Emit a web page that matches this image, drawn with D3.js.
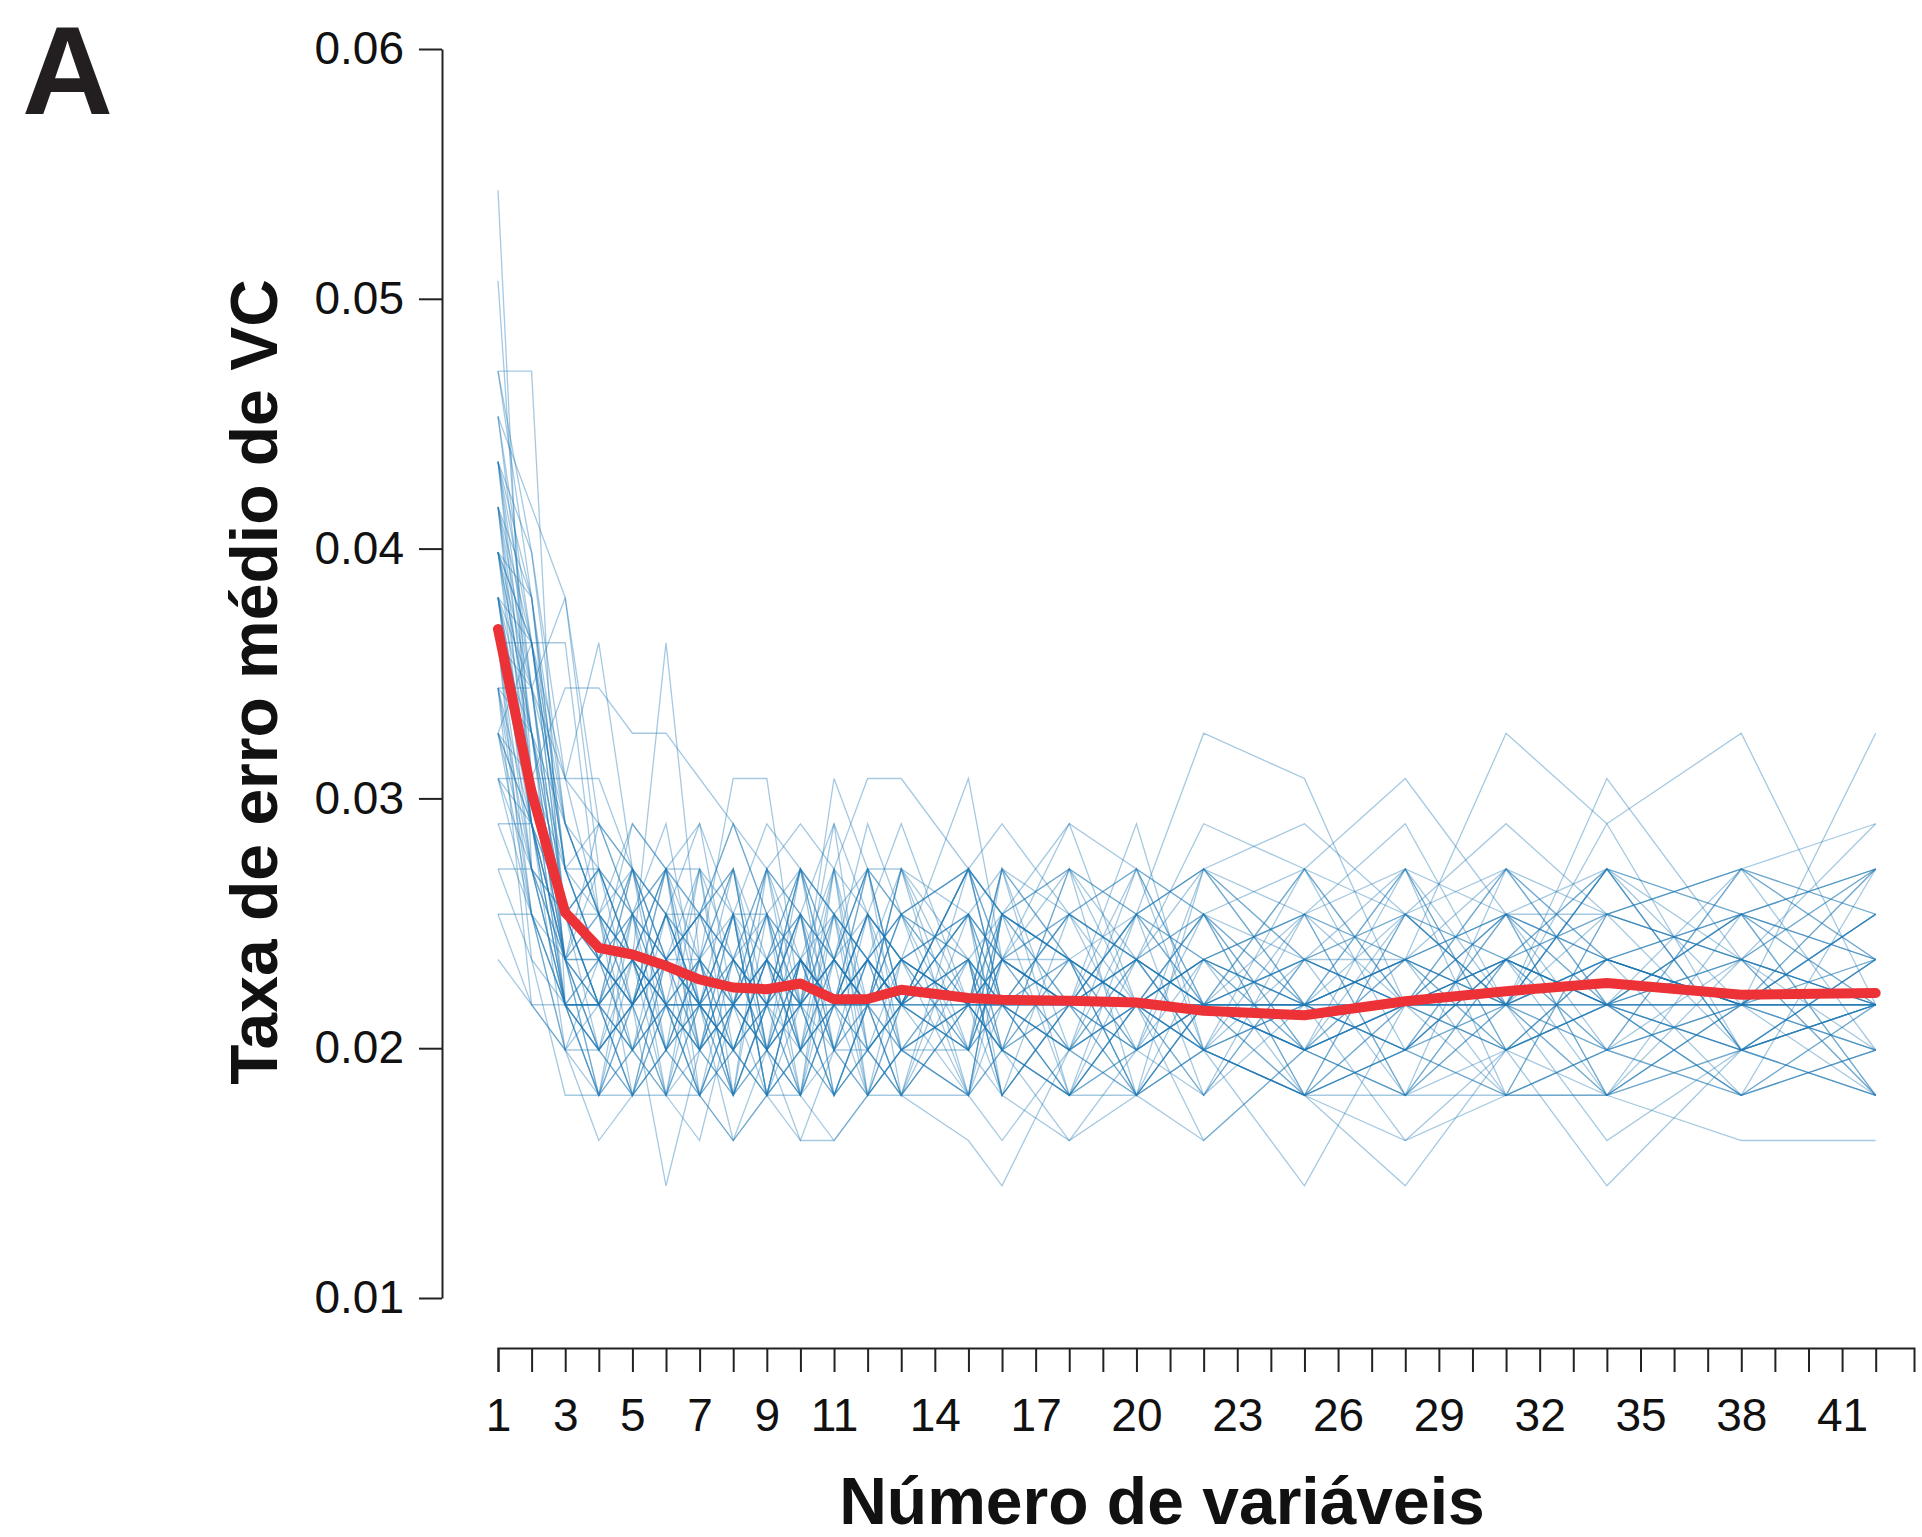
<!DOCTYPE html>
<html>
<head>
<meta charset="utf-8">
<script src="https://cdn.jsdelivr.net/npm/d3@7"></script>
<style>
  body { margin: 0; background: #fff; }
  svg text { font-family: "Liberation Sans", Arial, Helvetica, sans-serif; fill: #111; }
</style>
</head>
<body>
<svg id="chart" width="1922" height="1537"></svg>
<script>
// numbers of variables at which each run was evaluated
const nVars = [1, 2, 3, 4, 5, 6, 7, 8, 9, 10, 11, 12, 13, 15, 16, 18, 20, 22, 25, 28, 31, 34, 38, 42];

// misclassified samples per run (out of nAmostras), one row per CV run
const nAmostras = 552;
const execucoes = [
  [30,15,12, 13,11,12,10,12,14,11,12,14,12,13,11,13,10,12,13,12,14,12,11,12],
  [28,17,13, 11,12,14,12,11,13,12,10,12,13,11,14,12,12,13,11,10,12,13,12,14],
  [26,26,12, 12,10,13,12,15,11,13,15,11,12,12,13,11,12,14,12,11,13,12,10,12],
  [26,22,16, 14,13,11,13,10,12,12,14,13,11,12,15,13,11,12,12,14,12,11,13,12],
  [25,23,21, 15,13,12,11,13,12,10,12,13,12,11,13,12,14,12,11,12,13,15,12,11],
  [25,20,15, 13,14,16,12,12,10,13,11,12,10,12,13,11,12,11,12,13,11,12,11,13],
  [24,19,17, 20,15,13,14,13,12,14,12,11,12,15,12,11,13,12,10,11,13,12,14,12],
  [24,21,14, 13,12,12,13,11,12,15,13,12,13,12,11,10,12,13,11,12,12,14,13,12],
  [24,18,13, 10,11,12,12,9,10,11,12,13,12,11,12,12,13,11,12,9,11,12,12,13],
  [23,20,16, 14,12,13,11,12,14,12,13,12,14,12,13,12,11,10,12,13,14,11,12,10],
  [23,17,19, 19,18,18,17,16,14,13,12,13,12,12,14,13,12,11,10,12,13,12,13,11],
  [23,19,14, 12,11,10,12,12,11,13,11,10,11,12,12,11,12,12,13,12,14,13,12,12],
  [22,16,13, 12,13,11,12,14,11,12,10,12,12,13,10,12,12,11,8,12,12,10,12,15],
  [22,20,15, 13,15,12,12,11,13,12,11,13,12,14,12,12,14,12,12,11,12,13,12,12],
  [22,18,14, 15,14,13,12,10,12,11,12,12,13,12,11,12,13,12,13,13,12,16,11,12],
  [22,17,12, 11,13,12,13,12,12,12,10,11,12,11,12,10,11,12,11,12,13,12,12,13],
  [21,19,21, 16,14,13,13,12,12,13,12,12,15,12,12,12,12,13,12,12,11,12,13,12],
  [21,17,13, 13,12,15,11,12,12,13,12,14,13,12,12,11,12,12,12,13,12,12,10,11],
  [21,16,14, 12,12,13,12,12,11,12,13,12,12,15,13,13,12,12,12,12,11,13,12,12],
  [21,15,13, 12,13,12,12,11,12,12,12,13,12,12,13,12,10,12,11,12,12,12,12,12],
  [20,14,11, 10,10,11,10,9,10,11,10,11,10,10,11,10,12,11,10,11,10,10,11,10],
  [20,16,12, 11,10,10,10,11,10,9,11,11,10,9,8,11,10,11,10,10,11,8,11,10],
  [20,13,10, 10,12,8,11,10,11,10,11,10,10,12,11,10,10,9,11,10,10,11,10,11],
  [19,15,12, 12,11,10,11,10,11,9,9,10,11,10,11,9,10,11,10,11,10,10,11,12],
  [19,12,11, 11,10,12,10,11,10,10,12,10,11,11,10,9,11,12,10,8,11,10,9,9],
  [19,19,16, 15,14,15,16,14,13,15,14,13,14,15,14,16,15,14,15,17,14,15,14,15],
  [18,20,17, 14,16,15,14,13,15,14,16,14,13,14,15,14,13,15,14,13,14,14,15,16],
  [18,17,15, 16,15,14,14,15,13,14,13,15,14,13,14,15,14,13,14,15,14,13,14,13],
  [18,16,14, 13,14,15,15,14,14,13,14,15,15,14,13,14,15,14,13,14,15,14,15,14],
  [17,17,17, 17,15,14,13,14,16,15,14,13,14,15,14,13,14,15,16,14,13,15,14,15],
  [17,15,14, 12,13,11,12,13,12,14,13,12,13,12,14,15,14,18,17,12,11,13,12,12],
  [16,16,13, 13,12,14,12,11,13,12,12,13,12,13,12,12,13,12,12,13,18,16,18,12],
  [16,14,12, 12,11,13,12,12,11,13,12,12,13,12,11,12,13,12,11,12,12,11,12,18],
  [15,15,14, 14,13,15,14,16,15,16,15,17,17,15,14,13,12,13,14,12,13,14,13,12],
  [15,13,12, 12,13,12,11,13,12,13,12,14,13,17,13,12,11,12,13,12,12,17,13,12],
  [14,14,13, 14,13,20,13,12,11,12,13,12,11,13,12,14,12,13,12,11,12,13,12,14],
  [14,12,11, 13,12,14,13,17,17,12,17,15,14,13,12,14,13,12,11,12,13,12,11,12],
  [13,12,12, 11,12,13,14,12,13,11,12,13,12,14,13,12,13,14,12,13,12,12,14,13],
  [20,20,20, 14,12,13,11,12,13,12,12,11,12,13,12,13,12,11,12,13,12,13,12,14],
  [24,20,14, 12,14,13,12,11,12,14,13,12,11,12,12,13,12,12,12,11,13,12,12,12],
  [22,18,13, 14,10,12,15,11,13,10,14,12,10,15,12,11,14,10,13,15,11,12,14,10],
  [21,16,12, 10,13,15,11,14,10,13,12,15,11,10,14,13,10,12,15,11,14,10,13,15],
  [20,17,14, 15,12,10,13,15,11,14,10,12,15,13,10,12,15,11,10,14,12,15,11,13],
  [19,14,11, 12,15,13,10,12,14,11,15,10,13,14,11,15,12,14,11,13,10,14,15,11],
  [23,21,15, 13,11,14,12,10,15,12,13,14,10,12,15,10,13,12,14,10,13,11,12,14],
  [24,17,12, 11,14,10,14,13,12,15,11,13,14,11,13,14,11,15,12,12,15,13,10,12],
  [18,15,13, 15,13,12,11,14,10,11,13,10,12,15,12,10,14,13,10,14,12,15,13,10],
  [17,16,12, 10,12,14,16,12,13,15,12,14,11,13,10,12,16,11,13,12,14,10,12,15],
  [21,18,16, 14,15,11,13,10,12,14,11,13,15,10,14,13,12,10,14,13,11,12,15,13],
  [22,20,14, 12,10,13,14,15,11,12,14,11,10,14,13,15,10,13,12,15,10,14,11,12],
  [20,17,13, 16,14,12,10,13,14,10,15,12,13,11,15,11,13,14,10,11,14,12,13,10],
  [25,19,14, 13,16,15,13,11,10,13,12,15,12,14,10,14,15,12,11,14,13,10,14,15],
  [19,16,13, 11,12,10,9,12,13,11,10,12,10,13,11,10,12,9,11,10,12,9,11,10],
  [21,20,15, 15,13,11,12,14,10,12,15,14,16,12,11,13,10,12,15,12,10,11,15,14],
  [23,18,12, 10,11,13,14,12,15,14,11,12,14,10,13,12,14,15,13,10,15,13,12,11],
  [20,15,12, 13,15,14,12,11,13,11,14,10,12,15,14,10,12,13,14,16,12,15,11,13],
  [18,14,12, 12,10,11,15,13,11,10,12,13,11,12,10,12,11,14,10,12,13,12,10,15],
  [24,22,17, 16,15,13,14,16,14,15,13,16,14,15,16,14,13,16,15,14,16,14,13,16],
  [22,19,13, 11,12,15,10,12,15,13,11,14,13,10,12,11,15,12,11,15,11,13,14,10],
  [19,18,15, 14,11,12,13,10,14,12,16,11,12,14,11,15,13,11,14,10,13,11,15,13],
  [21,17,14, 15,13,10,12,14,10,13,12,12,15,11,13,16,12,10,13,14,12,15,11,12],
  [20,19,13, 10,14,12,11,13,15,11,13,15,12,10,14,12,10,15,12,13,14,13,12,11],
  [23,16,11, 9,10,11,10,9,11,10,9,10,11,10,9,11,10,11,10,9,10,11,10,11],
  [22,21,16, 14,13,15,12,14,12,15,14,13,12,15,13,12,14,15,13,12,15,12,14,13],
  [17,14,12, 12,14,11,13,15,12,10,13,12,14,12,15,13,11,12,12,11,13,14,13,15],
  [26,21,15, 13,12,14,11,12,13,14,10,11,13,12,12,14,13,11,15,12,12,10,12,14],
  [20,18,14, 11,12,13,15,10,12,12,13,15,12,11,14,13,12,14,11,13,15,12,11,13],
  [18,16,13, 12,15,12,12,13,11,15,12,14,13,14,12,10,11,13,12,15,12,13,14,12]
];

// mean CV error over all runs (red line)
const erroMedio = [0.03678, 0.03025, 0.02543, 0.02402, 0.02375, 0.02330, 0.02275, 0.02243,
  0.02236, 0.02259, 0.02196, 0.02197, 0.02234, 0.02201, 0.02194, 0.02190, 0.02183, 0.02150,
  0.02132, 0.02188, 0.02228, 0.02261, 0.02214, 0.02221];

const yTicks = [0.01, 0.02, 0.03, 0.04, 0.05, 0.06];
const xTickLabels = [1, 3, 5, 7, 9, 11, 14, 17, 20, 23, 26, 29, 32, 35, 38, 41];

const svg = d3.select('#chart');

const x = d3.scaleLinear().domain([1, 43.14]).range([498, 1914]);
const y = d3.scaleLinear().domain([0.01, 0.06]).range([1298, 49]);

const line = d3.line()
  .x((d, i) => x(nVars[i]))
  .y(d => y(d));

// individual runs
svg.append('g')
  .selectAll('path')
  .data(execucoes)
  .join('path')
  .attr('d', run => line(run.map(k => k / nAmostras)))
  .attr('fill', 'none')
  .attr('stroke', '#1f77b4')
  .attr('stroke-opacity', 0.4)
  .attr('stroke-width', 1.3);

// mean
svg.append('path')
  .datum(erroMedio)
  .attr('d', line)
  .attr('fill', 'none')
  .attr('stroke', '#ec3237')
  .attr('stroke-width', 10)
  .attr('stroke-linecap', 'round')
  .attr('stroke-linejoin', 'round');

// y axis
const yAxis = svg.append('g')
  .attr('transform', 'translate(442,0)')
  .call(d3.axisLeft(y)
    .tickValues(yTicks)
    .tickFormat(d3.format('.2f'))
    .tickSize(23)
    .tickPadding(15)
    .tickSizeOuter(0));

// x axis, a tick at every integer but labels only on some
const xAxis = svg.append('g')
  .attr('transform', 'translate(0,1348)')
  .call(d3.axisBottom(x)
    .tickValues(d3.range(1, 43))
    .tickFormat(d => xTickLabels.includes(d) ? d : '')
    .tickSize(24)
    .tickPadding(26)
    .tickSizeOuter(24));

[yAxis, xAxis].forEach(g => {
  g.attr('font-family', null).attr('font-size', 46);
  g.selectAll('path, line').attr('stroke', '#222').attr('stroke-width', 2);
  g.selectAll('text').attr('fill', '#111');
});

// titles
svg.append('text')
  .attr('x', 1162)
  .attr('y', 1524)
  .attr('text-anchor', 'middle')
  .attr('font-size', 66)
  .attr('font-weight', 'bold')
  .text('Número de variáveis');

svg.append('text')
  .attr('transform', 'translate(277,682) rotate(-90)')
  .attr('text-anchor', 'middle')
  .attr('font-size', 66)
  .attr('font-weight', 'bold')
  .text('Taxa de erro médio de VC');

svg.append('text')
  .attr('x', 22)
  .attr('y', 114)
  .attr('font-size', 126)
  .attr('font-weight', 'bold')
  .style('fill', '#231f20')
  .text('A');
</script>
</body>
</html>
